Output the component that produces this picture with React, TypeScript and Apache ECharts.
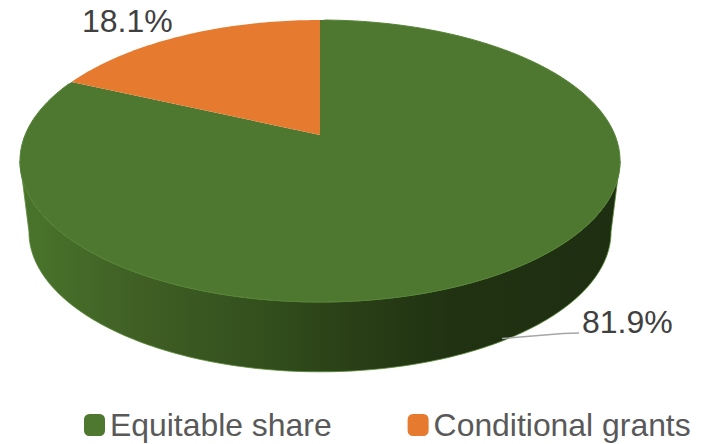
import React, { useEffect, useRef } from "react";
import * as echarts from "echarts";

const categories = ["Equitable share", "Conditional grants"];
const shares = [81.9, 18.1];
const colors = ["#4e7730", "#e67b30"];

const FONT = '"Liberation Sans", Arial, sans-serif';
const CX = 320, CY = 135;
const K = 0.1844, A = 136.2, B = 294.9;
const DEPTH = 71;

const project = (deg: number, sx = 1, sy = 1, dy = 0): number[] => {
  const t = (deg * Math.PI) / 180;
  const w = 1 + K * Math.cos(t);
  return [CX + (sx * B * Math.sin(t)) / w, CY + dy - (sy * A * Math.cos(t)) / w];
};

const arc = (from: number, to: number, sx = 1, sy = 1, dy = 0): number[][] => {
  const n = Math.max(2, Math.ceil(Math.abs(to - from)));
  const pts: number[][] = [];
  for (let i = 0; i <= n; i++) pts.push(project(from + ((to - from) * i) / n, sx, sy, dy));
  return pts;
};

const sliceRange = (i: number): number[] => {
  const total = shares.reduce((a, b) => a + b, 0);
  const before = shares.slice(0, i).reduce((a, b) => a + b, 0);
  return [(before / total) * 360, ((before + shares[i]) / total) * 360];
};

const edgeAngle = (Math.acos(-K) * 180) / Math.PI;

const renderSlice = (i: number) => () => {
  const [a0, a1] = sliceRange(i);
  const children: any[] = [];
  if (i === 0) {
    const top = arc(edgeAngle, 360 - edgeAngle);
    const bottom = arc(360 - edgeAngle, edgeAngle, 0.97, 0.993, DEPTH);
    children.push({
      type: "polygon",
      shape: { points: [...top, ...bottom] },
      style: {
        fill: new echarts.graphic.LinearGradient(20, 0, 620, 0, [
          { offset: 0, color: "#4a752b" },
          { offset: 0.2, color: "#3f5f25" },
          { offset: 0.4, color: "#33501d" },
          { offset: 0.55, color: "#2a3f17" },
          { offset: 0.72, color: "#203212" },
          { offset: 1, color: "#1e2f11" },
        ], true),
        stroke: "#5a8a3a",
        lineWidth: 0.8,
      },
    });
  }
  children.push({
    type: "polygon",
    shape: { points: [[CX, CY], ...arc(a0, a1)] },
    style: { fill: colors[i] },
  });
  if (i === 0) {
    children.push({
      type: "polyline",
      shape: { points: arc(a0 + 1, a1 - 1) },
      style: { fill: "none", stroke: "#568436", lineWidth: 1 },
    });
    children.push({
      type: "polyline",
      shape: { points: [[502, 338.5], [563, 333.5], [579, 333]] },
      style: { fill: "none", stroke: "#a6a6a6", lineWidth: 1.3 },
    });
  }
  children.push({
    type: "text",
    style: {
      text: `${shares[i]}%`,
      x: i === 0 ? 582 : 82,
      y: i === 0 ? 306 : 5,
      fill: "#404040",
      fontSize: 32,
      fontFamily: FONT,
      textAlign: "left",
      textVerticalAlign: "top",
    },
  });
  return { type: "group", children };
};

export default function App() {
  const ref = useRef<HTMLDivElement>(null);
  useEffect(() => {
    document.body.style.margin = "0";
    const chart = echarts.init(ref.current!, null, { renderer: "svg" });
    chart.setOption({
      animation: false,
      backgroundColor: "#ffffff",
      color: colors,
      legend: {
        data: categories,
        left: 84,
        top: 409,
        padding: 0,
        icon: "roundRect",
        itemWidth: 21,
        itemHeight: 22,
        itemGap: 76,
        textStyle: { color: "#595959", fontSize: 31.9, fontFamily: FONT, padding: [0, 0, 0, 0] },
      },
      series: categories.map((name, i) => ({
        type: "custom",
        name,
        coordinateSystem: "none",
        silent: true,
        data: [shares[i]],
        itemStyle: { color: colors[i] },
        renderItem: renderSlice(i),
      })),
    });
    return () => chart.dispose();
  }, []);
  return <div ref={ref} style={{ position: "absolute", left: 0, top: 0, width: 704, height: 444 }} />;
}
